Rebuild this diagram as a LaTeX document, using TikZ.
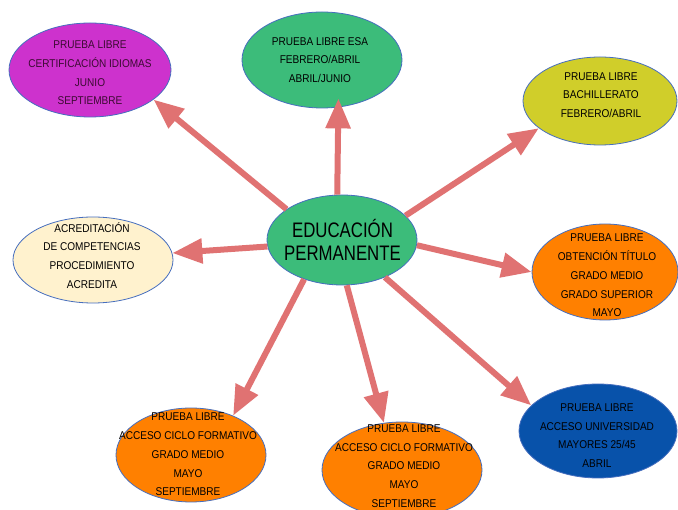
\documentclass[tikz,border=0pt]{standalone}
\usepackage{fontspec}
\newfontfamily\cond{Liberation Sans}[FakeStretch=0.89]
\newfontfamily\condbig{Liberation Sans}[FakeStretch=0.8]
\usetikzlibrary{shapes.geometric,arrows.meta}
\definecolor{cmag}{RGB}{205,50,205}
\definecolor{cgreen}{RGB}{60,188,122}
\definecolor{cyellow}{RGB}{208,206,42}
\definecolor{ccream}{RGB}{255,242,206}
\definecolor{corange}{RGB}{255,128,0}
\definecolor{cblue}{RGB}{8,82,170}
\definecolor{cedge}{RGB}{70,110,190}
\definecolor{carrow}{RGB}{224,114,114}
\definecolor{cdark}{RGB}{60,10,50}
\tikzset{
  bubble/.style={ellipse, draw=cedge, line width=0.8pt, inner sep=0pt},
  btext/.style={align=center, font=\cond\fontsize{11.3}{18.7}\selectfont, text=black, inner sep=0pt},
  bigtext/.style={align=center, font=\condbig\fontsize{21}{23}\selectfont, text=black, inner sep=0pt},
  link/.style={draw=carrow, line width=6pt, -{Triangle[length=30pt,width=24pt]}}
}
\begin{document}
\begin{tikzpicture}[x=1pt,y=-1pt]
\clip (0,0) rectangle (678,510);
\fill[white] (0,0) rectangle (678,510);
% ellipses
\node[bubble, fill=cmag, minimum width=162pt, minimum height=94pt] (e1) at (90,70) {};
\node[bubble, fill=cgreen, minimum width=160pt, minimum height=96pt] (e2) at (322,60) {};
\node[bubble, fill=cyellow, minimum width=154pt, minimum height=88pt] (e3) at (600,101) {};
\node[bubble, fill=ccream, minimum width=160pt, minimum height=86pt] (e4) at (93,260) {};
\node[bubble, fill=cgreen, minimum width=150pt, minimum height=90pt] (c) at (342,240) {};
\node[bubble, fill=corange, minimum width=146pt, minimum height=96pt] (e6) at (605,272) {};
\node[bubble, fill=corange, minimum width=150pt, minimum height=94pt] (e7) at (191,455) {};
\node[bubble, fill=corange, minimum width=160pt, minimum height=96pt] (e8) at (402,470) {};
\node[bubble, fill=cblue, minimum width=158pt, minimum height=94pt] (e9) at (598,431) {};
% texts
\node[btext, text=cdark] (t1) at (90,73) {PRUEBA LIBRE\\CERTIFICACIÓN IDIOMAS\\JUNIO\\SEPTIEMBRE};
\node[btext] (t2) at (320,60) {PRUEBA LIBRE ESA\\FEBRERO/ABRIL\\ABRIL/JUNIO};
\node[btext] (t3) at (601,95) {PRUEBA LIBRE\\BACHILLERATO\\FEBRERO/ABRIL};
\node[btext] (t4) at (92,255.5) {ACREDITACIÓN\\DE COMPETENCIAS\\PROCEDIMIENTO\\ACREDITA};
\node[bigtext] (tc) at (342.5,239.5) {EDUCACIÓN\\PERMANENTE};
\node[btext] (t6) at (607,275.5) {PRUEBA LIBRE\\OBTENCIÓN TÍTULO\\GRADO MEDIO\\GRADO SUPERIOR\\MAYO};
\node[btext] (t7) at (188,454.5) {PRUEBA LIBRE\\ACCESO CICLO FORMATIVO\\GRADO MEDIO\\MAYO\\SEPTIEMBRE};
\node[btext] (t8) at (404,466) {PRUEBA LIBRE\\ACCESO CICLO FORMATIVO\\GRADO MEDIO\\MAYO\\SEPTIEMBRE};
\node[btext] (t9) at (597,435.5) {PRUEBA LIBRE\\ACCESO UNIVERSIDAD\\MAYORES 25/45\\ABRIL};
% arrows
\draw[link] (c.151) -- (e1.-25);
\draw[link, shorten >=-9pt] (c.96) -- (e2.-71);
\draw[link] (c.21) -- (e3.204);
\draw[link] (c.-175) -- (e4.5);
\draw[link] (c.-4) -- (e6.180);
\draw[link] (c.-134) -- (e7.43);
\draw[link] (c.-84) -- (e8.111);
\draw[link] (c.-41) -- (e9.159);
\end{tikzpicture}
\end{document}
